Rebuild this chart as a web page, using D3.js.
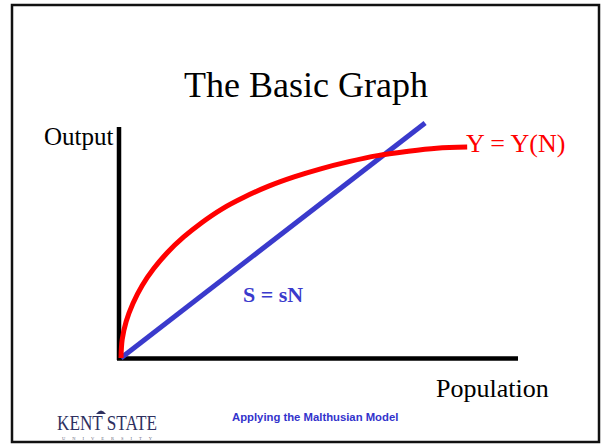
<!DOCTYPE html>
<html>
<head>
<meta charset="utf-8">
<script src="https://cdn.jsdelivr.net/npm/d3@7"></script>
<style>
  body { margin: 0; background: #fff; }
  svg { display: block; }
</style>
</head>
<body>
<div class="basic-graph"></div>
<script>
// output curve Y = Y(N) (population, output)
const outputN = [0, 0.3, 1.3, 3.0, 5.3, 8.2, 11.7, 15.8, 20.4, 25.5, 31.1, 37.2, 43.6, 50.3, 57.4, 64.6, 72.0, 79.5, 87.2];
const outputY = [0, 8.0, 15.8, 23.6, 31.3, 38.6, 45.7, 52.4, 58.7, 64.6, 69.7, 74.4, 78.4, 81.9, 85.0, 87.6, 89.4, 90.8, 91.3];

// savings line S = sN
const savingN = [0, 76.6];
const savingS = [0, 101.7];

const width = 605;
const height = 446;

const svg = d3.select('.basic-graph').append('svg')
  .attr('width', width)
  .attr('height', height);

// slide frame
svg.append('rect')
  .attr('x', 12)
  .attr('y', 5)
  .attr('width', 587)
  .attr('height', 437)
  .attr('fill', 'none')
  .attr('stroke', '#111')
  .attr('stroke-width', 2.5);

const x = d3.scaleLinear()
  .domain([0, 100])
  .range([121, 518]);

const y = d3.scaleLinear()
  .domain([0, 100])
  .range([358, 127]);

// axes, just the two thick lines
svg.append('line')
  .attr('x1', x(0) - 2).attr('x2', x(0) - 2)
  .attr('y1', y(100)).attr('y2', y(0) + 2)
  .attr('stroke', 'black')
  .attr('stroke-width', 4.5);

svg.append('line')
  .attr('x1', x(0) - 4).attr('x2', x(100))
  .attr('y1', y(0) + 0.5).attr('y2', y(0) + 0.5)
  .attr('stroke', 'black')
  .attr('stroke-width', 4.5);

const line = d3.line()
  .x(d => x(d[0]))
  .y(d => y(d[1]));

svg.append('path')
  .datum(savingN.map((n, i) => [n, savingS[i]]))
  .attr('d', line)
  .attr('fill', 'none')
  .attr('stroke', '#3a3acc')
  .attr('stroke-width', 5);

svg.append('path')
  .datum(outputN.map((n, i) => [n, outputY[i]]))
  .attr('d', line.curve(d3.curveCatmullRom.alpha(0.5)))
  .attr('fill', 'none')
  .attr('stroke', '#ff0000')
  .attr('stroke-width', 5);

// texts
svg.append('text')
  .text('The Basic Graph')
  .attr('x', 306)
  .attr('y', 97)
  .attr('text-anchor', 'middle')
  .attr('font-family', 'Liberation Serif, Times New Roman, serif')
  .attr('font-size', 36);

svg.append('text')
  .text('Output')
  .attr('x', 44)
  .attr('y', 145)
  .attr('font-family', 'Liberation Serif, Times New Roman, serif')
  .attr('font-size', 25);

svg.append('text')
  .text('Population')
  .attr('x', 436)
  .attr('y', 397)
  .attr('font-family', 'Liberation Serif, Times New Roman, serif')
  .attr('font-size', 26);

svg.append('text')
  .text('Y = Y(N)')
  .attr('x', 466)
  .attr('y', 152)
  .attr('fill', '#ff0000')
  .attr('font-family', 'Liberation Serif, Times New Roman, serif')
  .attr('font-size', 26);

svg.append('text')
  .text('S = sN')
  .attr('x', 243)
  .attr('y', 302)
  .attr('fill', '#3a3acc')
  .attr('font-weight', 'bold')
  .attr('font-family', 'Liberation Serif, Times New Roman, serif')
  .attr('font-size', 22);

svg.append('text')
  .text('Applying the Malthusian Model')
  .attr('x', 232)
  .attr('y', 421)
  .attr('fill', '#3333cc')
  .attr('font-weight', 'bold')
  .attr('font-family', 'Liberation Sans, Arial, sans-serif')
  .attr('font-size', 11.3);

// Kent State logo as text
svg.append('text')
  .text('KENT STATE')
  .attr('x', 57)
  .attr('y', 430)
  .attr('textLength', 100)
  .attr('lengthAdjust', 'spacingAndGlyphs')
  .attr('fill', '#2e3060')
  .attr('font-family', 'Liberation Serif, Times New Roman, serif')
  .attr('font-size', 21);

svg.append('text')
  .text('UNIVERSITY')
  .attr('x', 62)
  .attr('y', 439.5)
  .attr('textLength', 90)
  .attr('lengthAdjust', 'spacing')
  .attr('fill', '#666680')
  .attr('font-family', 'Liberation Serif, Times New Roman, serif')
  .attr('font-size', 4.5);

svg.append('path')
  .attr('d', 'M96,414 Q101,407 106,414 Z')
  .attr('fill', '#2e3060');
</script>
</body>
</html>
